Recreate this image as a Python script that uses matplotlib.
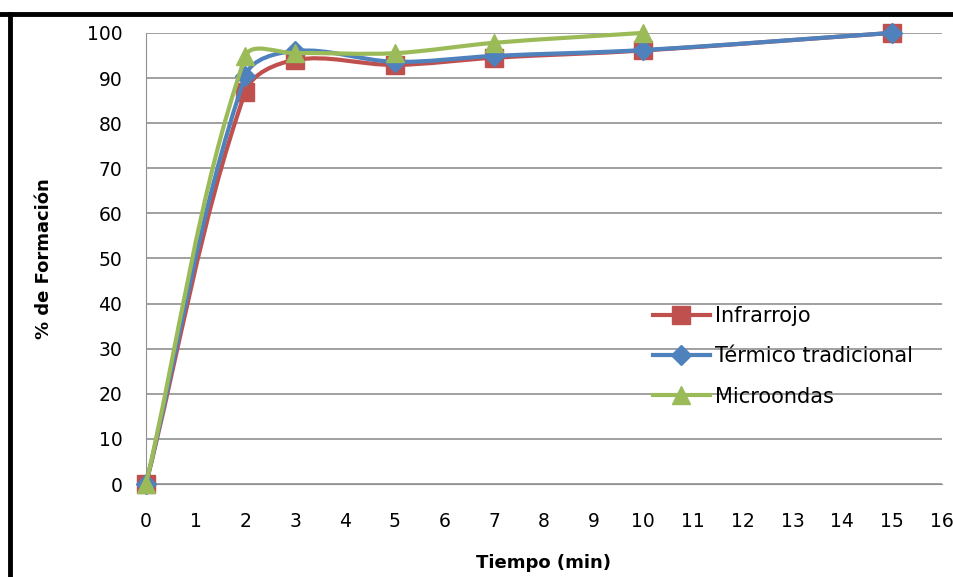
import math
import matplotlib.pyplot as plt
from matplotlib.path import Path
from matplotlib.patches import PathPatch
from matplotlib.lines import Line2D

plt.rcParams['font.family'] = ['DejaVu Sans']

# data
x_inf = [0, 2, 3, 5, 7, 10, 15]
y_inf = [0, 87, 94, 92.9, 94.5, 96.1, 100]
x_ter = [0, 2, 3, 5, 7, 10, 15]
y_ter = [0, 90.5, 96, 93.6, 94.9, 96.2, 100]
x_mic = [0, 2, 3, 5, 7, 10]
y_mic = [0, 94.8, 95.5, 95.5, 97.8, 100]

red = "#C0504D"
blue = "#4F81BD"
green = "#9BBB59"

# pixel size of one data unit, used so the smoothing looks right on screen
SX = 49.7
SY = 4.51


def smooth_path(xs, ys):
    # smoothed line like Excel: bezier segments, tangent length tied to segment length
    pts = [(x * SX, y * SY) for x, y in zip(xs, ys)]
    n = len(pts)

    def tangent(i):
        a = pts[i - 1] if i > 0 else pts[i]
        b = pts[i + 1] if i < n - 1 else pts[i]
        dx, dy = b[0] - a[0], b[1] - a[1]
        d = math.hypot(dx, dy)
        return dx / d, dy / d

    verts = [pts[0]]
    codes = [Path.MOVETO]
    for i in range(n - 1):
        p1, p2 = pts[i], pts[i + 1]
        L = math.hypot(p2[0] - p1[0], p2[1] - p1[1]) / 3
        t1, t2 = tangent(i), tangent(i + 1)
        c1 = (p1[0] + t1[0] * L, p1[1] + t1[1] * L)
        c2 = (p2[0] - t2[0] * L, p2[1] - t2[1] * L)
        verts += [c1, c2, p2]
        codes += [Path.CURVE4] * 3
    verts = [(vx / SX, vy / SY) for vx, vy in verts]
    return Path(verts, codes)


fig = plt.figure(figsize=(9.54, 5.77), dpi=100)
ax = fig.add_axes([0.153, 0.161, 0.834, 0.782])

series = [
    (x_inf, y_inf, red, "s", 13, "Infrarrojo"),
    (x_ter, y_ter, blue, "D", 10, "Térmico tradicional"),
    (x_mic, y_mic, green, "^", 13, "Microondas"),
]
handles = []
for z, (xs, ys, c, m, ms, lab) in enumerate(series):
    ax.add_patch(PathPatch(smooth_path(xs, ys), facecolor="none", edgecolor=c,
                           lw=3, zorder=3 + 2 * z, clip_on=False))
    ax.plot(xs, ys, linestyle="none", marker=m, markersize=ms, color=c,
            zorder=4 + 2 * z, clip_on=False)
    handles.append(Line2D([], [], color=c, lw=3, marker=m, markersize=ms, label=lab))

ax.set_xlim(0, 16)
ax.set_ylim(0, 100)
ax.set_xticks(range(0, 17))
ax.set_yticks(range(0, 101, 10))
ax.tick_params(length=0, labelsize=13.5, colors="#000000")
ax.tick_params(axis="y", pad=17)
ax.tick_params(axis="x", pad=20)
ax.grid(axis="y", color="#909090", lw=1.2)
ax.set_axisbelow(True)
for s in ["top", "right"]:
    ax.spines[s].set_visible(False)
ax.spines["left"].set_color("#909090")
ax.spines["bottom"].set_color("#909090")

ax.set_xlabel("Tiempo (min)", fontsize=13, fontweight="bold", labelpad=17)
ax.set_ylabel("% de Formación", fontsize=13, fontweight="bold", labelpad=24)

ax.legend(handles=handles, loc="upper left", bbox_to_anchor=(0.684, 0.470),
          bbox_transform=fig.transFigure, frameon=False, fontsize=15,
          handlelength=2.74, handletextpad=0.24, labelspacing=0.98,
          borderaxespad=0, borderpad=0)

# black frame of the original picture
fig.add_artist(Line2D([0, 1], [1 - 14 / 577] * 2, color="black", lw=3.5,
                      transform=fig.transFigure))
fig.add_artist(Line2D([10 / 954] * 2, [0, 1 - 14 / 577], color="black", lw=3.5,
                      transform=fig.transFigure))

fig.savefig("out.png", dpi=100)
